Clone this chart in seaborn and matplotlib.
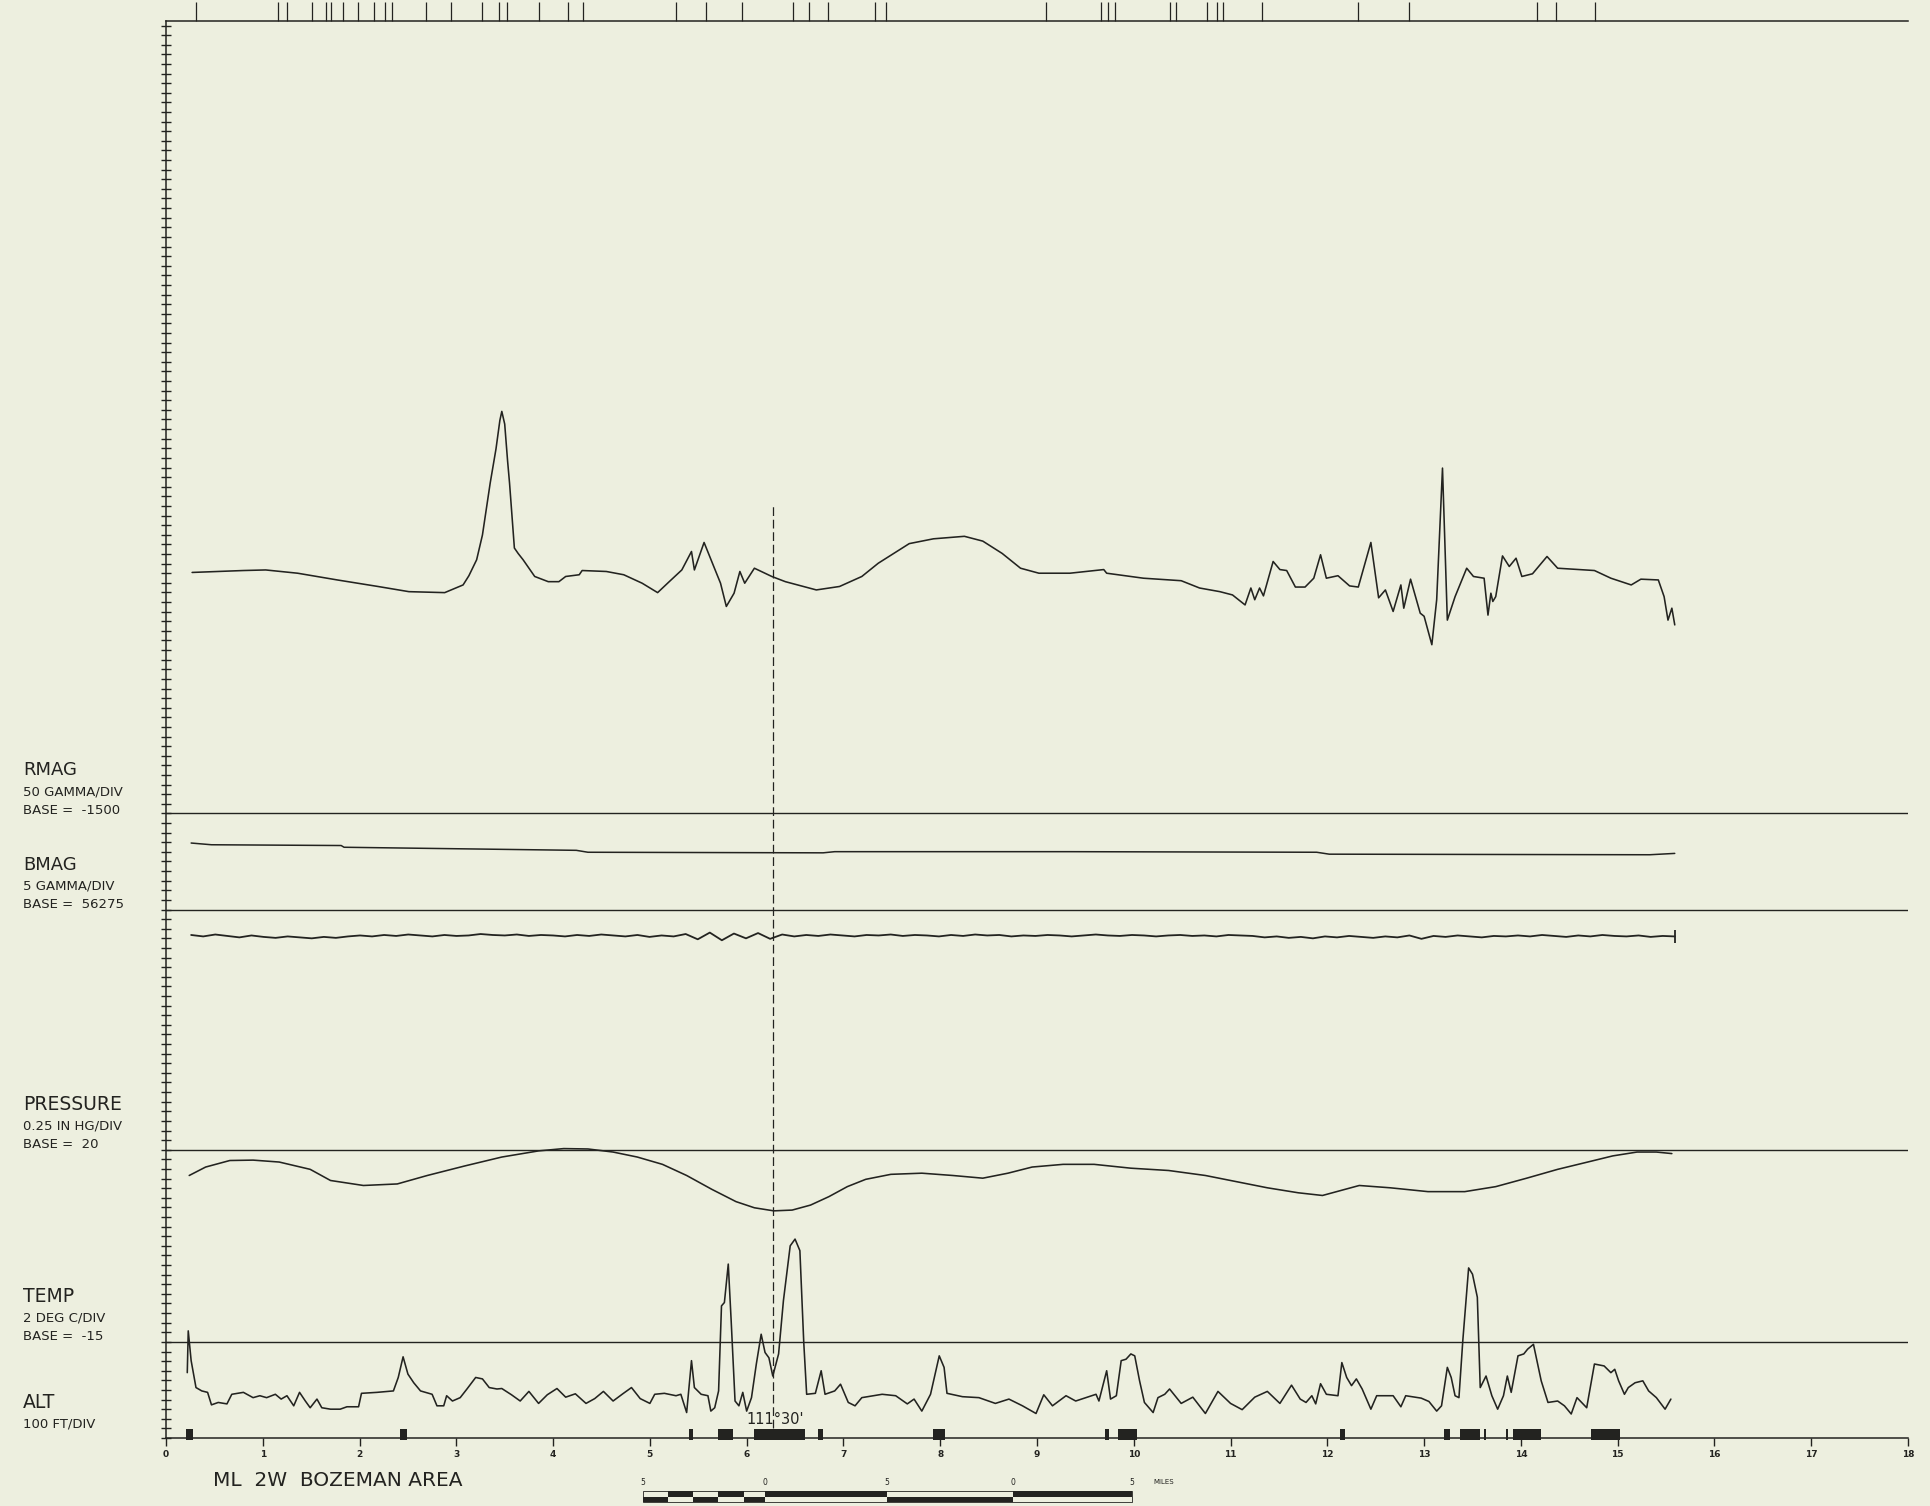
import numpy as np
import matplotlib
matplotlib.use("Agg")
import matplotlib.pyplot as plt
from matplotlib.ticker import MultipleLocator
from matplotlib.patches import Rectangle
import seaborn as sns

sns.set_theme(style="white")
plt.rcParams['font.family'] = ['DejaVu Sans']

PAPER = "#EDEFDF"
INK = "#232320"

# ---------------- data ----------------
mile_ticks = list(range(19))

event_mi = [0.31, 1.16, 1.25, 1.51, 1.65, 1.70, 1.83, 1.98, 2.15, 2.26, 2.34, 2.69,
            2.95, 3.27, 3.44, 3.52, 3.85, 4.15, 4.31, 5.27, 5.58, 5.95, 6.48, 6.64,
            6.84, 7.33, 7.44, 9.09, 9.66, 9.73, 9.81, 10.37, 10.44, 10.76, 10.86,
            10.92, 11.33, 12.32, 12.84, 14.17, 14.36, 14.77]

rmag_base, rmag_scale, rmag_base_div = -1500, 50, 65
bmag_base, bmag_scale, bmag_base_div = 56275, 5, 55
pres_base, pres_scale, pres_base_div = 20, 0.25, 30
temp_base, temp_scale, temp_base_div = -15, 2, 10

rmag_mi = [0.27, 0.80, 1.03, 1.36, 1.77, 2.19, 2.51, 2.88, 3.07, 3.13,
           3.21, 3.27, 3.35, 3.41, 3.45, 3.47, 3.50, 3.53, 3.55, 3.60,
           3.64, 3.69, 3.81, 3.95, 4.06, 4.13, 4.27, 4.30, 4.55, 4.73,
           4.92, 5.08, 5.20, 5.33, 5.43, 5.46, 5.56, 5.66, 5.73, 5.79,
           5.87, 5.93, 5.98, 6.08, 6.26, 6.40, 6.72, 6.96, 7.19, 7.36,
           7.68, 7.93, 8.25, 8.44, 8.64, 8.83, 9.02, 9.34, 9.69, 9.72,
           10.10, 10.49, 10.68, 10.89, 11.02, 11.15, 11.21, 11.25, 11.30, 11.34,
           11.44, 11.51, 11.58, 11.67, 11.77, 11.86, 11.93, 11.99, 12.11, 12.23,
           12.32, 12.45, 12.53, 12.60, 12.68, 12.76, 12.79, 12.86, 12.96, 13.00,
           13.08, 13.13, 13.19, 13.24, 13.32, 13.44, 13.51, 13.62, 13.66, 13.69,
           13.71, 13.74, 13.81, 13.88, 13.95, 14.01, 14.12, 14.27, 14.38, 14.76,
           14.93, 15.14, 15.24, 15.42, 15.48, 15.52, 15.56, 15.59]
rmag_gamma = [-246, -236, -233, -250, -285, -319, -346, -351, -311, -263,
              -180, -51, 219, 397, 545, 592, 526, 333, 219, -119,
              -148, -180, -267, -294, -294, -267, -258, -236, -241, -258,
              -302, -351, -294, -233, -137, -233, -90, -215, -302, -423,
              -354, -241, -302, -224, -267, -294, -337, -319, -267, -198,
              -96, -71, -58, -83, -147, -224, -250, -250, -231, -250,
              -276, -289, -327, -346, -363, -415, -327, -388, -327, -368,
              -189, -231, -236, -322, -322, -276, -154, -276, -263, -316,
              -322, -90, -378, -337, -449, -311, -432, -281, -458, -474,
              -622, -388, 297, -494, -372, -224, -267, -276, -468, -354,
              -397, -372, -160, -215, -172, -267, -253, -163, -224, -236,
              -276, -311, -281, -285, -372, -494, -432, -519]

bmag_mi = [0.26, 0.47, 1.81, 1.84, 3.34, 4.24, 4.36, 6.79, 6.91, 9.34, 11.89, 12.02, 15.33, 15.59]
bmag_gamma = [56309.6, 56308.7, 56308.3, 56307.4, 56306.4, 56305.8, 56304.8,
              56304.5, 56305.1, 56305.1, 56304.8, 56303.8, 56303.5, 56304.2]

noise_div = [52.35, 52.2, 52.4, 52.25, 52.1, 52.3, 52.15, 52.05, 52.2, 52.1,
             52.0, 52.15, 52.05, 52.2, 52.3, 52.2, 52.35, 52.25, 52.4, 52.3,
             52.2, 52.35, 52.25, 52.3, 52.45, 52.35, 52.3, 52.4, 52.25, 52.35,
             52.3, 52.2, 52.35, 52.25, 52.4, 52.3, 52.2, 52.35, 52.15, 52.3,
             52.2, 52.45, 51.9, 52.6, 51.8, 52.5, 52.0, 52.55, 51.95, 52.4,
             52.2, 52.35, 52.25, 52.4, 52.3, 52.2, 52.35, 52.3, 52.4, 52.25,
             52.35, 52.3, 52.2, 52.35, 52.25, 52.4, 52.3, 52.35, 52.2, 52.3,
             52.25, 52.35, 52.3, 52.2, 52.3, 52.4, 52.3, 52.25, 52.35, 52.3,
             52.2, 52.3, 52.35, 52.25, 52.3, 52.2, 52.35, 52.3, 52.25, 52.1,
             52.2, 52.05, 52.15, 52.0, 52.2, 52.1, 52.25, 52.15, 52.05, 52.2,
             52.1, 52.3, 51.95, 52.25, 52.15, 52.3, 52.2, 52.1, 52.25, 52.2,
             52.3, 52.2, 52.35, 52.25, 52.15, 52.3, 52.2, 52.35, 52.25, 52.2,
             52.3, 52.15, 52.25, 52.2]
noise_start_mi, noise_end_mi = 0.26, 15.59

pres_mi = [0.24, 0.41, 0.66, 0.90, 1.17, 1.49, 1.70, 2.04, 2.39, 2.70,
           3.09, 3.47, 3.85, 4.11, 4.36, 4.62, 4.87, 5.13, 5.38, 5.64,
           5.89, 6.08, 6.28, 6.47, 6.66, 6.85, 7.04, 7.23, 7.49, 7.81,
           8.13, 8.44, 8.70, 8.95, 9.27, 9.59, 9.97, 10.36, 10.74, 11.06,
           11.38, 11.70, 11.95, 12.14, 12.33, 12.65, 13.04, 13.42, 13.74, 14.06,
           14.38, 14.69, 14.95, 15.20, 15.40, 15.56]
pres_inhg = [19.33, 19.55, 19.72, 19.73, 19.68, 19.49, 19.20, 19.07, 19.11, 19.33,
             19.58, 19.81, 19.97, 20.03, 20.02, 19.94, 19.81, 19.62, 19.33, 18.97,
             18.65, 18.49, 18.41, 18.43, 18.56, 18.78, 19.04, 19.23, 19.36, 19.39,
             19.33, 19.26, 19.39, 19.55, 19.62, 19.62, 19.52, 19.46, 19.33, 19.17,
             19.01, 18.88, 18.81, 18.94, 19.07, 19.01, 18.91, 18.91, 19.04, 19.26,
             19.49, 19.68, 19.84, 19.94, 19.94, 19.90]

temp_mi = [0.22, 0.23, 0.26, 0.31, 0.37, 0.43, 0.47, 0.54, 0.63, 0.68,
           0.80, 0.90, 0.97, 1.04, 1.13, 1.19, 1.25, 1.32, 1.38, 1.44,
           1.49, 1.56, 1.61, 1.70, 1.80, 1.87, 1.99, 2.02, 2.18, 2.35,
           2.40, 2.45, 2.50, 2.56, 2.63, 2.75, 2.80, 2.87, 2.90, 2.96,
           3.04, 3.11, 3.20, 3.27, 3.34, 3.42, 3.47, 3.57, 3.66, 3.75,
           3.85, 3.94, 4.04, 4.13, 4.23, 4.34, 4.43, 4.52, 4.62, 4.72,
           4.81, 4.90, 5.00, 5.05, 5.15, 5.27, 5.32, 5.38, 5.43, 5.46,
           5.53, 5.60, 5.63, 5.67, 5.71, 5.74, 5.77, 5.81, 5.84, 5.88,
           5.92, 5.96, 6.00, 6.05, 6.10, 6.15, 6.19, 6.23, 6.27, 6.33,
           6.38, 6.45, 6.50, 6.55, 6.59, 6.62, 6.71, 6.77, 6.81, 6.91,
           6.97, 7.05, 7.12, 7.19, 7.40, 7.54, 7.66, 7.73, 7.81, 7.90,
           7.99, 8.04, 8.07, 8.23, 8.40, 8.57, 8.71, 8.85, 8.99, 9.07,
           9.16, 9.30, 9.40, 9.61, 9.64, 9.72, 9.76, 9.82, 9.87, 9.92,
           9.97, 10.01, 10.06, 10.11, 10.20, 10.25, 10.32, 10.37, 10.49, 10.61,
           10.74, 10.87, 11.00, 11.12, 11.25, 11.38, 11.51, 11.63, 11.72, 11.78,
           11.84, 11.88, 11.93, 11.99, 12.11, 12.15, 12.20, 12.25, 12.30, 12.36,
           12.45, 12.51, 12.68, 12.76, 12.81, 12.97, 13.05, 13.13, 13.18, 13.24,
           13.28, 13.32, 13.36, 13.40, 13.46, 13.50, 13.55, 13.58, 13.64, 13.70,
           13.76, 13.82, 13.86, 13.90, 13.97, 14.03, 14.07, 14.13, 14.21, 14.28,
           14.38, 14.45, 14.52, 14.58, 14.68, 14.76, 14.86, 14.93, 14.97, 15.01,
           15.07, 15.11, 15.18, 15.26, 15.32, 15.40, 15.49, 15.55]
temp_c = [-21.4, -12.7, -18.9, -24.5, -25.2, -25.5, -28.1, -27.6, -27.9, -25.9,
          -25.5, -26.6, -26.2, -26.6, -25.9, -26.9, -26.2, -28.3, -25.5, -27.3,
          -28.7, -26.9, -28.7, -29.0, -29.0, -28.5, -28.5, -25.7, -25.5, -25.2,
          -22.4, -18.1, -21.7, -23.5, -25.2, -25.9, -28.3, -28.3, -26.2, -27.3,
          -26.6, -24.8, -22.4, -22.7, -24.5, -24.8, -24.7, -26.0, -27.3, -25.3,
          -27.8, -26.0, -24.7, -26.5, -25.8, -27.8, -26.8, -25.3, -27.3, -25.8,
          -24.5, -26.8, -27.8, -25.9, -25.7, -26.2, -25.9, -29.7, -18.9, -24.5,
          -25.9, -26.2, -29.4, -28.7, -25.2, -7.5, -6.8, 1.2, -10.6, -27.3,
          -28.3, -25.5, -29.4, -26.6, -19.6, -13.4, -17.2, -18.3, -22.1, -17.5,
          -6.4, 5.0, 6.4, 4.0, -15.1, -25.9, -25.7, -21.0, -25.9, -25.2,
          -23.8, -27.6, -28.3, -26.6, -25.9, -26.2, -27.9, -26.9, -29.4, -25.9,
          -17.9, -20.3, -25.7, -26.4, -26.6, -27.8, -26.9, -28.3, -29.9, -26.0,
          -28.3, -26.2, -27.3, -25.9, -27.3, -21.0, -26.9, -26.2, -18.9, -18.6,
          -17.5, -17.9, -23.1, -27.6, -29.7, -26.6, -25.9, -24.8, -27.8, -26.5,
          -29.9, -25.3, -27.8, -29.1, -26.5, -25.3, -27.8, -24.0, -26.9, -27.6,
          -26.2, -27.9, -23.7, -25.9, -26.2, -19.3, -22.4, -24.1, -22.7, -24.8,
          -29.0, -26.2, -26.2, -28.5, -26.2, -26.7, -27.4, -29.4, -28.3, -20.3,
          -22.4, -26.2, -26.6, -14.7, 0.4, -0.9, -5.7, -24.5, -22.1, -26.2,
          -29.0, -26.2, -22.1, -25.5, -17.9, -17.5, -16.5, -15.5, -23.1, -27.6,
          -27.3, -28.3, -30.0, -26.6, -28.7, -19.6, -20.0, -21.4, -20.7, -23.1,
          -25.9, -24.5, -23.5, -23.1, -25.2, -26.6, -29.0, -26.9]

seg_start = [0.21, 2.42, 5.40, 5.70, 6.08, 6.74, 7.93, 9.70, 9.84, 12.13, 13.21, 13.37, 13.62, 13.85, 13.92, 14.72]
seg_end = [0.28, 2.49, 5.45, 5.86, 6.60, 6.79, 8.05, 9.74, 10.03, 12.18, 13.27, 13.58, 13.64, 13.87, 14.21, 15.02]

meridian_mi = 6.27
meridian_label = "111°30'"

scale_edges = [4.93, 5.19, 5.45, 5.70, 5.97, 6.19, 7.45, 8.75, 9.98]
scale_labels = ["5", "0", "5", "0", "5"]
scale_label_pos = [4.93, 6.19, 7.45, 8.75, 9.98]

# ---------------- figure ----------------
fig = plt.figure(figsize=(19.30, 15.06), dpi=100, facecolor=PAPER)
ax = fig.add_axes([0.0860, 0.04515, 0.9026, 0.9411])
ax.set_facecolor(PAPER)
ax.set_xlim(0, 18)
ax.set_ylim(0, 147.5)

for b in [rmag_base_div, bmag_base_div, pres_base_div, temp_base_div]:
    ax.axhline(b, color=INK, lw=1.0, zorder=2)

rmag_div = rmag_base_div + (np.array(rmag_gamma) - rmag_base) / rmag_scale
bmag_div = bmag_base_div + (np.array(bmag_gamma) - bmag_base) / bmag_scale
pres_div = pres_base_div + (np.array(pres_inhg) - pres_base) / pres_scale
temp_div = temp_base_div + (np.array(temp_c) - temp_base) / temp_scale
noise_mi = np.linspace(noise_start_mi, noise_end_mi, len(noise_div))

kw = dict(ax=ax, color=INK, estimator=None, sort=False, legend=False)
sns.lineplot(x=rmag_mi, y=rmag_div, lw=1.15, **kw)
sns.lineplot(x=bmag_mi, y=bmag_div, lw=1.1, **kw)
sns.lineplot(x=noise_mi, y=noise_div, lw=1.3, **kw)
sns.lineplot(x=pres_mi, y=pres_div, lw=1.15, **kw)
sns.lineplot(x=temp_mi, y=temp_div, lw=1.15, **kw)

ax.vlines(noise_mi[-1], noise_div[-1] - 0.7, noise_div[-1] + 0.7, color=INK, lw=1.3)

ax.vlines(meridian_mi, 1.0, 97.0, color=INK, lw=0.9, linestyles=(0, (7, 3)))
ax.text(meridian_mi + 0.03, 1.9, meridian_label, ha='center', va='center',
        fontsize=10.5, color=INK)

seg_w = np.array(seg_end) - np.array(seg_start)
ax.bar(seg_start, 1.2, width=seg_w, bottom=-0.25, align='edge', color=INK,
       lw=0, clip_on=False, zorder=3)

for s in ['left', 'bottom', 'top']:
    ax.spines[s].set_color(INK)
    ax.spines[s].set_linewidth(1.1)
ax.spines['right'].set_visible(False)

ax.yaxis.set_major_locator(MultipleLocator(1))
ax.tick_params(axis='y', direction='inout', length=7, width=1.0, color=INK,
               left=True, labelleft=False, right=False)
ax.set_xticks(mile_ticks)
ax.set_xticklabels([str(m) for m in mile_ticks], fontsize=6.5, fontweight='bold', color=INK)
ax.tick_params(axis='x', direction='out', length=5.5, width=1.0, color=INK,
               bottom=True, top=False, pad=3)
ax.set_xlabel("")
ax.set_ylabel("")
ax.grid(False)

sec = ax.secondary_xaxis('top')
sec.set_xticks(event_mi)
sec.tick_params(axis='x', direction='out', length=13.7, width=0.9, color=INK,
                labeltop=False, top=True)
sec.spines['top'].set_visible(False)

ymid, yhalf = -6.1, 0.6
for i in range(len(scale_edges) - 1):
    lo = ymid - yhalf if i % 2 == 0 else ymid
    ax.add_patch(Rectangle((scale_edges[i], lo), scale_edges[i + 1] - scale_edges[i], yhalf,
                           facecolor=INK, edgecolor='none', clip_on=False))
ax.add_patch(Rectangle((scale_edges[0], ymid - yhalf), scale_edges[-1] - scale_edges[0], 2 * yhalf,
                       facecolor='none', edgecolor=INK, lw=0.6, clip_on=False))
for lab, pos in zip(scale_labels, scale_label_pos):
    ax.text(pos, -4.6, lab, ha='center', va='center', fontsize=5.5, color=INK, clip_on=False)
ax.text(10.2, -4.6, "MILES", ha='left', va='center', fontsize=5, color=INK, clip_on=False)

H = 1506.0
labels = [("RMAG", 770, 13), ("50 GAMMA/DIV", 791.7, 9.5), ("BASE =  -1500", 810, 9.5),
          ("BMAG", 865, 13), ("5 GAMMA/DIV", 886, 9.5), ("BASE =  56275", 905, 9.5),
          ("PRESSURE", 1105, 13.5), ("0.25 IN HG/DIV", 1126, 9.5), ("BASE =  20", 1145, 9.5),
          ("TEMP", 1296.7, 13.5), ("2 DEG C/DIV", 1318, 9.5), ("BASE =  -15", 1336.7, 9.5),
          ("ALT", 1403, 13.5), ("100 FT/DIV", 1424, 9.5)]
for txt, yy, fs in labels:
    fig.text(23 / 1930, 1 - yy / H, txt, fontsize=fs, va='center', ha='left', color=INK)

fig.text(213 / 1930, 1 - 1480 / H, "ML  2W  BOZEMAN AREA", fontsize=14.5,
         va='center', ha='left', color=INK)

fig.savefig("out.png", dpi=100, facecolor=PAPER)
